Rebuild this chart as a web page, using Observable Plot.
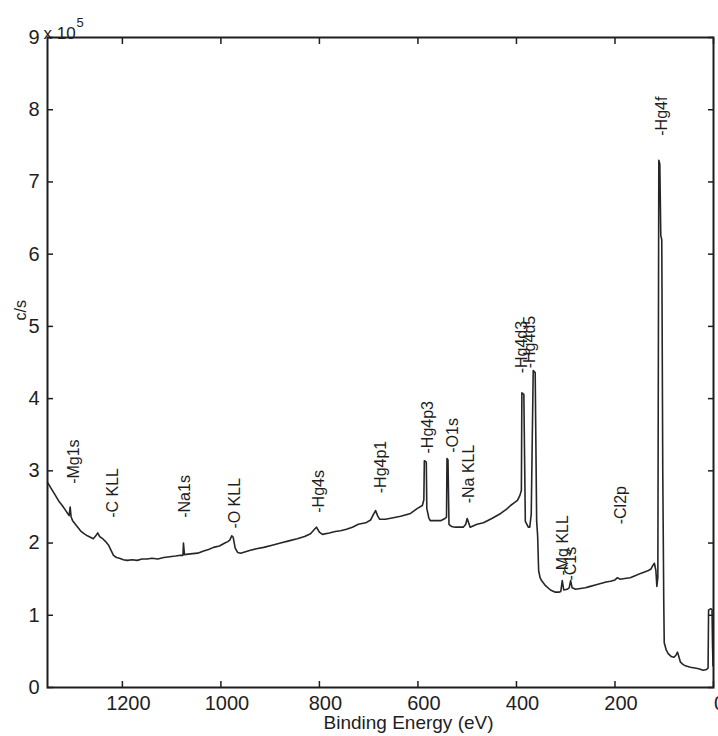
<!DOCTYPE html>
<html><head><meta charset="utf-8">
<script src="https://cdn.jsdelivr.net/npm/d3@7"></script>
<script src="https://cdn.jsdelivr.net/npm/@observablehq/plot@0.6"></script>
<style>body{margin:0;background:#fff} svg{display:block}</style>
</head><body><div id="chart"></div>
<script>
// Binding energy (eV), descending
const energy = [1352,1345,1336,1329,1322,1316,1311,1308,1306,1304,1301,1293,1285,1278,1271,1265,1259,1254,1250,1246,1240,1234,1228,1223,1218,1212,1206,1198,1190,1180,1170,1160,1150,1140,1128,1116,1104,1092,1082,1077,1076,1074,1062,1047,1035,1025,1015,1003,992,986,982,978,975,971,966,960,950,940,928,913,896,879,862,845,830,818,810,806,800,794,780,768,757,745,733,721,706,696,690,686,682,678,666,650,635,615,601,591,588,587,583,582,578,575,565,554,545,542,541,539,537,532,524,508,503,500,497,494,480,467,450,432,420,412,404,398,393,390,389,385,382,376,373,370,366,362,359,357,355,352,349,341,331,321,314,310,307,304,297,293,290,287,280,270,260,250,240,229,218,209,200,195,190,180,169,158,148,140,132,127,124,120,117,115,113,111,109,107,105,103,101,100,96,92,86,80,76,73,70,67,62,57,47,38,30,21,14,11,10,6,3,2,1];
// Intensity (x 10^5 c/s)
const counts = [2.84,2.76,2.66,2.58,2.52,2.46,2.41,2.38,2.50,2.36,2.31,2.24,2.17,2.13,2.10,2.08,2.06,2.10,2.14,2.09,2.06,2.02,1.97,1.90,1.83,1.80,1.79,1.77,1.76,1.77,1.76,1.78,1.78,1.79,1.78,1.80,1.81,1.82,1.83,1.83,2.00,1.84,1.85,1.86,1.89,1.91,1.94,1.96,2.00,2.02,2.04,2.10,2.08,1.93,1.87,1.86,1.88,1.90,1.92,1.94,1.97,2.00,2.03,2.06,2.09,2.13,2.19,2.22,2.15,2.12,2.14,2.16,2.17,2.19,2.22,2.26,2.28,2.32,2.40,2.45,2.38,2.33,2.33,2.35,2.37,2.41,2.48,2.52,2.60,3.14,3.12,2.48,2.35,2.31,2.31,2.31,2.34,2.36,3.17,3.15,2.26,2.23,2.22,2.22,2.26,2.34,2.28,2.22,2.26,2.28,2.34,2.41,2.47,2.52,2.56,2.59,2.66,2.73,4.08,4.06,2.30,2.22,2.22,2.40,4.39,4.36,2.30,2.10,1.62,1.52,1.48,1.41,1.35,1.32,1.32,1.33,1.48,1.35,1.36,1.38,1.48,1.38,1.36,1.37,1.38,1.40,1.42,1.44,1.46,1.47,1.49,1.52,1.50,1.51,1.52,1.55,1.58,1.60,1.62,1.64,1.68,1.72,1.62,1.40,1.52,7.30,7.25,6.26,6.20,3.00,1.20,0.62,0.52,0.47,0.43,0.42,0.45,0.49,0.42,0.35,0.32,0.30,0.28,0.27,0.26,0.24,0.25,0.27,1.07,1.09,1.08,0.60,0.30];

const xTicks = [1200,1000,800,600,400,200,0];
const yTicks = [0,1,2,3,4,5,6,7,8,9];

const peakNames = ["Mg1s","C KLL","Na1s","O KLL","Hg4s","Hg4p1","Hg4p3","O1s","Na KLL","Hg4d3","Hg4d5","Mg KLL","C1s","Cl2p","Hg4f"];
const peakEnergy = [1299,1220,1074,972,802,676,579,530,497,388,372,305,290,189,104];
const labelLevel = [2.82,2.35,2.35,2.20,2.42,2.69,3.24,3.25,2.55,4.35,4.42,1.55,1.48,2.26,7.64];

const spectrum = energy.map((e, i) => ({e, c: counts[i]}));
const peaks = peakNames.map((n, i) => ({name: "-" + n, e: peakEnergy[i], c: labelLevel[i]}));

const ink = "#1e1e1e";
const chart = Plot.plot({
  width: 718, height: 736,
  marginTop: 37, marginBottom: 49, marginLeft: 47, marginRight: 5,
  style: {fontFamily: "'Liberation Sans', Arial, sans-serif", background: "#fff", color: ink, overflow: "visible"},
  x: {domain: [1352, 0]},
  y: {domain: [0, 9]},
  marks: [
    Plot.line(spectrum, {x: "e", y: "c", stroke: "#262626", strokeWidth: 1.6, strokeLinejoin: "round"}),
    Plot.text(peaks, {x: "e", y: "c", text: "name", rotate: -90, textAnchor: "start", lineAnchor: "middle", fontSize: 16, fill: ink}),
    Plot.frame({stroke: ink, strokeWidth: 2}),
    Plot.axisX({ticks: xTicks, tickSize: -6, tickFormat: () => "", label: null, strokeWidth: 1.5}),
    Plot.axisX({anchor: "top", ticks: xTicks, tickSize: -6, tickFormat: () => "", label: null, strokeWidth: 1.5}),
    Plot.axisX({ticks: xTicks, tickSize: 0, tickPadding: 8, dx: 6, fontSize: 20, tickFormat: d => String(d), label: null}),
    Plot.axisY({ticks: yTicks, tickSize: -6, tickFormat: () => "", label: null, strokeWidth: 1.5}),
    Plot.axisY({anchor: "right", ticks: yTicks, tickSize: -6, tickFormat: () => "", label: null, strokeWidth: 1.5}),
    Plot.axisY({ticks: yTicks, tickSize: 0, tickPadding: 8, fontSize: 20, tickFormat: d => String(d), label: null}),
    Plot.text(["Binding Energy (eV)"], {frameAnchor: "bottom", lineAnchor: "top", dx: 28, dy: 28, fontSize: 19, fill: ink}),
    Plot.text(["c/s"], {frameAnchor: "left", dx: -27, dy: -42, rotate: -90, fontSize: 16, fill: ink}),
    Plot.text(["x 10"], {frameAnchor: "top-left", textAnchor: "start", lineAnchor: "middle", dx: -4, dy: -4, fontSize: 17, fill: ink}),
    Plot.text(["5"], {frameAnchor: "top-left", textAnchor: "start", lineAnchor: "middle", dx: 29, dy: -15, fontSize: 13, fill: ink})
  ]
});
document.getElementById("chart").appendChild(chart);
</script>
</body></html>
